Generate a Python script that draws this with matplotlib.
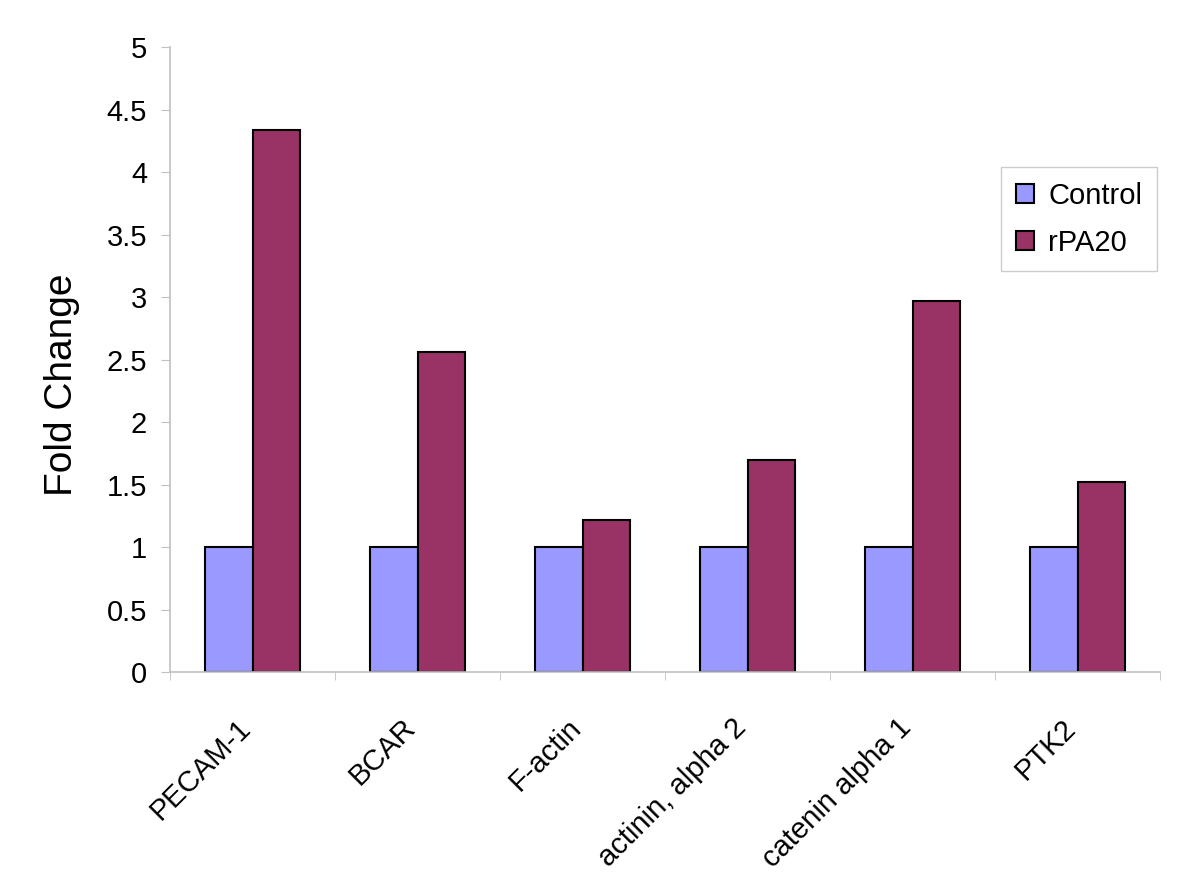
import matplotlib.pyplot as plt
import numpy as np

plt.rcParams['font.family'] = ['Liberation Sans', 'DejaVu Sans']

# data
genes = ['PECAM-1', 'BCAR', 'F-actin', 'actinin, alpha 2', 'catenin alpha 1', 'PTK2']
control = [1, 1, 1, 1, 1, 1]
rpa20 = [4.34, 2.56, 1.22, 1.695, 2.965, 1.52]
yticks = [0, 0.5, 1, 1.5, 2, 2.5, 3, 3.5, 4, 4.5, 5]
ytick_labels = ['0', '0.5', '1', '1.5', '2', '2.5', '3', '3.5', '4', '4.5', '5']

fig = plt.figure(figsize=(12, 8.77), dpi=100)
ax = fig.add_axes([0.1417, 0.2337, 0.825, 0.7127])

x = np.arange(len(genes))
w = 0.29
ax.bar(x - w / 2, control, w, color='#9999FF', edgecolor='black', linewidth=1.5, label='Control')
ax.bar(x + w / 2, rpa20, w, color='#993366', edgecolor='black', linewidth=1.5, label='rPA20')

ax.set_xlim(-0.5, len(genes) - 0.5)
ax.set_ylim(0, 5)

for s in ['top', 'right']:
    ax.spines[s].set_visible(False)
for s in ['left', 'bottom']:
    ax.spines[s].set_color('#c0c0c0')
    ax.spines[s].set_linewidth(1.2)

ax.set_yticks(yticks)
ax.set_yticklabels(ytick_labels, fontsize=21)
ax.tick_params(axis='y', length=6.5, color='#c0c0c0', pad=10)

# labels sit a little left of the group centre, like the Excel original
ax.set_xticks(x - 0.097)
ax.set_xticklabels(genes, rotation=45, ha='right', va='top', rotation_mode='anchor', fontsize=21)
ax.tick_params(axis='x', which='major', length=0, pad=30)
ax.set_xticks(np.arange(-0.5, len(genes)), minor=True)
ax.tick_params(axis='x', which='minor', length=6, color='#c0c0c0')

ax.set_ylabel('Fold Change', fontsize=28)
ax.yaxis.set_label_coords(-0.091, 0.459)

leg = ax.legend(loc='upper right', bbox_to_anchor=(0.997, 0.808), fontsize=21, frameon=True,
                fancybox=False, handlelength=0.63, handleheight=0.63, handletextpad=0.5,
                borderpad=0.5, labelspacing=0.65, borderaxespad=0)
leg.get_frame().set_edgecolor('#c0c0c0')
leg.get_frame().set_linewidth(1.0)

fig.savefig('out.png', dpi=100)
